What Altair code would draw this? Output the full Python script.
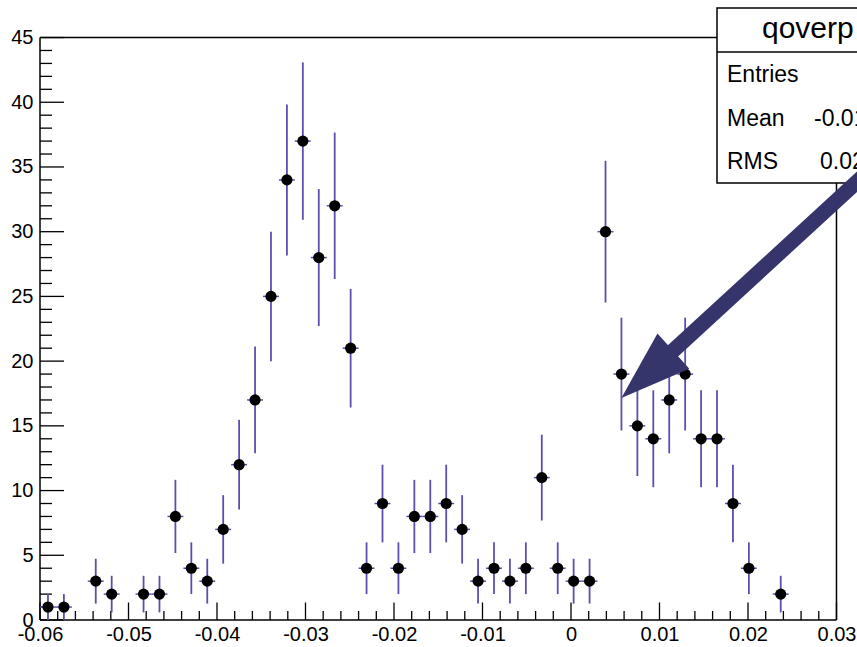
import altair as alt
import numpy as np
import pandas as pd

# ---- data ----
bin_low = -0.06
bin_width = 0.0018  # 50 bins from -0.06 to 0.03
bin_index = [0, 1, 3, 4, 6, 7, 8, 9, 10, 11, 12, 13, 14, 15, 16, 17, 18, 19,
             20, 21, 22, 23, 24, 25, 26, 27, 28, 29, 30, 31, 32, 33, 34,
             35, 36, 37, 38, 39, 40, 41, 42, 43, 44, 46]
counts = [1, 1, 3, 2, 2, 2, 8, 4, 3, 7, 12, 17, 25, 34, 37, 28, 32, 21,
          4, 9, 4, 8, 8, 9, 7, 3, 4, 3, 4, 11, 4, 3, 3,
          30, 19, 15, 14, 17, 19, 14, 14, 9, 4, 2]

x_tick_labels = [-0.06, -0.05, -0.04, -0.03, -0.02, -0.01, 0.0, 0.01, 0.02, 0.03]
x_minor_ticks = [round(-0.06 + 0.002 * k, 4) for k in range(46) if k % 5 != 0]
y_tick_labels = [0, 5, 10, 15, 20, 25, 30, 35, 40, 45]
y_minor_ticks = [k for k in range(46) if k % 5 != 0]

frame_x = [-0.06, 0.03, -0.06, -0.06]
frame_x2 = [-0.06, 0.03, 0.03, 0.03]
frame_y = [0, 0, 0, 45]
frame_y2 = [45, 45, 0, 45]

stat_header = "qoverp"
stat_names = ["Entries", "Mean", "RMS"]
stat_values = ["480", "-0.01489", "0.02273"]

arrow_x = [0.0350, 0.01029]   # tail, end of shaft
arrow_y = [35.54, 20.02]
arrow_tip_x = [0.005694]
arrow_tip_y = [17.15]

# ---- tables ----
centers = [bin_low + bin_width * (i + 0.5) for i in bin_index]
n = np.array(counts, dtype=float)
err = np.sqrt(n)
hist = pd.DataFrame({
    "x": centers, "n": n, "lo": n - err, "hi": n + err,
    "xl": [c - bin_width / 2 for c in centers],
    "xr": [c + bin_width / 2 for c in centers],
})
frame = pd.DataFrame({"fx": frame_x, "fx2": frame_x2, "fy": frame_y, "fy2": frame_y2})
ymaj = pd.DataFrame({"v": y_tick_labels})
ymin = pd.DataFrame({"v": y_minor_ticks})
xmaj = pd.DataFrame({"v": x_tick_labels})
xmin = pd.DataFrame({"v": x_minor_ticks})
shaft = pd.DataFrame({"ax": [arrow_x[0]], "ay": [arrow_y[0]],
                      "ax2": [arrow_x[1]], "ay2": [arrow_y[1]]})
tip = pd.DataFrame({"tx": arrow_tip_x, "ty": arrow_tip_y})
one = pd.DataFrame({"a": [0]})

FONT = "Liberation Sans"
EBAR = "#5a4fb0"
ARROW = "#35356b"

xscale = alt.Scale(domain=[-0.06, 0.032318], nice=False, zero=False)
yscale = alt.Scale(domain=[0, 47.9], nice=False, zero=False)
xaxis = alt.Axis(values=x_tick_labels, title=None, grid=False, domain=False,
                 ticks=False, tickSize=0, labelPadding=4, labelFlush=False,
                 labelOverlap=False, labelFont=FONT, labelFontSize=20,
                 labelColor="black",
                 labelExpr="datum.value == 0 ? '0' : (datum.value < 0 ? '-' + format(-datum.value, '.2f') : format(datum.value, '.2f'))")
yaxis = alt.Axis(values=y_tick_labels, title=None, grid=False, domain=False,
                 ticks=False, tickSize=0, labelPadding=7, labelFlush=False,
                 labelOverlap=False, labelFont=FONT, labelFontSize=20,
                 labelColor="black", format="d")

X = lambda f: alt.X(f, type="quantitative", scale=xscale, axis=xaxis)
Y = lambda f: alt.Y(f, type="quantitative", scale=yscale, axis=yaxis)

vbars = alt.Chart(hist).mark_rule(color=EBAR, strokeWidth=1.8).encode(
    x=X("x"), y=Y("lo"), y2="hi")
hbars = alt.Chart(hist).mark_rule(color=EBAR, strokeWidth=1.5).encode(
    x=X("xl"), x2="xr", y=Y("n"))
points = alt.Chart(hist).mark_circle(size=125, color="black", opacity=1).encode(
    x=X("x"), y=Y("n"))

frame_l = alt.Chart(frame).mark_rule(color="black", strokeWidth=1.5).encode(
    x=X("fx"), x2="fx2", y=Y("fy"), y2="fy2")

ymaj_l = alt.Chart(ymaj).mark_rule(color="black", strokeWidth=1.3).encode(
    y=Y("v"), x=alt.value(0), x2=alt.value(24))
ymin_l = alt.Chart(ymin).mark_rule(color="black", strokeWidth=1.3).encode(
    y=Y("v"), x=alt.value(0), x2=alt.value(12))
xmaj_l = alt.Chart(xmaj).mark_rule(color="black", strokeWidth=1.3).encode(
    x=X("v"), y=alt.value(620), y2=alt.value(602.5))
xmin_l = alt.Chart(xmin).mark_rule(color="black", strokeWidth=1.3).encode(
    x=X("v"), y=alt.value(620), y2=alt.value(611))

box = alt.Chart(one).mark_rect(fill="white", stroke="black", strokeWidth=1.5,
                               clip=True).encode(
    x=alt.value(677), x2=alt.value(860), y=alt.value(8), y2=alt.value(183))
sep = alt.Chart(one).mark_rule(color="black", strokeWidth=1.5, clip=True).encode(
    x=alt.value(677), x2=alt.value(860), y=alt.value(52))
header = alt.Chart(one).mark_text(text=stat_header, font=FONT, fontSize=30,
                                  align="left", baseline="middle", color="black",
                                  clip=True).encode(
    x=alt.value(722), y=alt.value(29))

row_y = [75, 119, 162]
value_x = [900, 774, 780]
stat_layers = []
for name, val, yy, vx in zip(stat_names, stat_values, row_y, value_x):
    stat_layers.append(alt.Chart(one).mark_text(
        text=name, font=FONT, fontSize=23, align="left", baseline="middle",
        color="black", clip=True).encode(x=alt.value(687), y=alt.value(yy)))
    stat_layers.append(alt.Chart(one).mark_text(
        text=val, font=FONT, fontSize=23, align="left", baseline="middle",
        color="black", clip=True).encode(x=alt.value(vx), y=alt.value(yy)))

shaft_l = alt.Chart(shaft).mark_rule(color=ARROW, strokeWidth=15, strokeCap="butt",
                                     clip=True).encode(
    x=X("ax"), x2="ax2", y=Y("ay"), y2="ay2")
head_l = alt.Chart(tip).mark_point(shape="M0,0L-0.34,-1L0.34,-1Z", filled=True,
                                   fill=ARROW, opacity=1, strokeWidth=0,
                                   size=19600, angle=48).encode(
    x=X("tx"), y=Y("ty"))

chart = alt.layer(
    frame_l, ymaj_l, ymin_l, xmaj_l, xmin_l,
    vbars, hbars, points,
    box, sep, header, *stat_layers,
    shaft_l, head_l,
).properties(
    width=817, height=620,
    padding={"left": 40, "top": 0, "right": 0, "bottom": 27},
    autosize=alt.AutoSizeParams(type="none"),
    background="white",
).configure_view(stroke=None)

chart.save("out.html", embed_options={"renderer": "svg", "actions": False})
